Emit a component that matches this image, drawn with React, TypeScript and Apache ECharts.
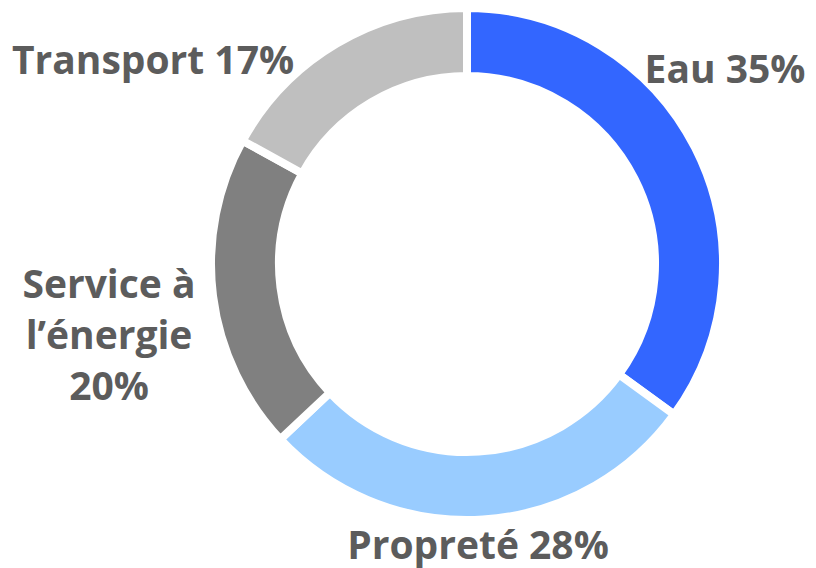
import React, { useEffect, useRef } from "react";
import * as echarts from "echarts";

const categories = ["Eau", "Propreté", "Service à\nl’énergie", "Transport"];
const values = [35, 28, 20, 17];
const colors = ["#3366FF", "#99CCFF", "#808080", "#BFBFBF"];
// label anchor points (text centre) per slice, in px
const labelAnchors = [
  [725, 67],
  [478, 543],
  [109, 333],
  [153, 58],
];

export default function App() {
  const ref = useRef<HTMLDivElement>(null);
  useEffect(() => {
    document.body.style.margin = "0";
    const chart = echarts.init(ref.current!, null, { renderer: "svg" });
    chart.setOption({
      animation: false,
      backgroundColor: "#ffffff",
      series: [
        {
          type: "pie",
          center: [467, 264],
          radius: [188, 256],
          startAngle: 90,
          clockwise: true,
          avoidLabelOverlap: false,
          itemStyle: { borderColor: "#ffffff", borderWidth: 8 },
          emphasis: { disabled: true },
          label: {
            show: true,
            position: "outside",
            color: "#5c5c5c",
            fontFamily: "'Open Sans', 'Noto Sans', sans-serif",
            fontWeight: "bold",
            fontSize: 39,
            lineHeight: 51,
            align: "center",
            formatter: (p: any) =>
              p.name + (p.name.indexOf("\n") >= 0 ? "\n" : " ") + p.value + "%",
          },
          labelLine: { show: false },
          labelLayout: (p: any) => ({
            x: labelAnchors[p.dataIndex][0],
            y: labelAnchors[p.dataIndex][1],
            align: "center",
            verticalAlign: "middle",
          }),
          data: categories.map((c, i) => ({
            name: c,
            value: values[i],
            itemStyle: { color: colors[i] },
          })),
        },
      ],
    });
    return () => chart.dispose();
  }, []);
  return (
    <div
      ref={ref}
      style={{ position: "fixed", left: 0, top: 0, width: 816, height: 568 }}
    />
  );
}
